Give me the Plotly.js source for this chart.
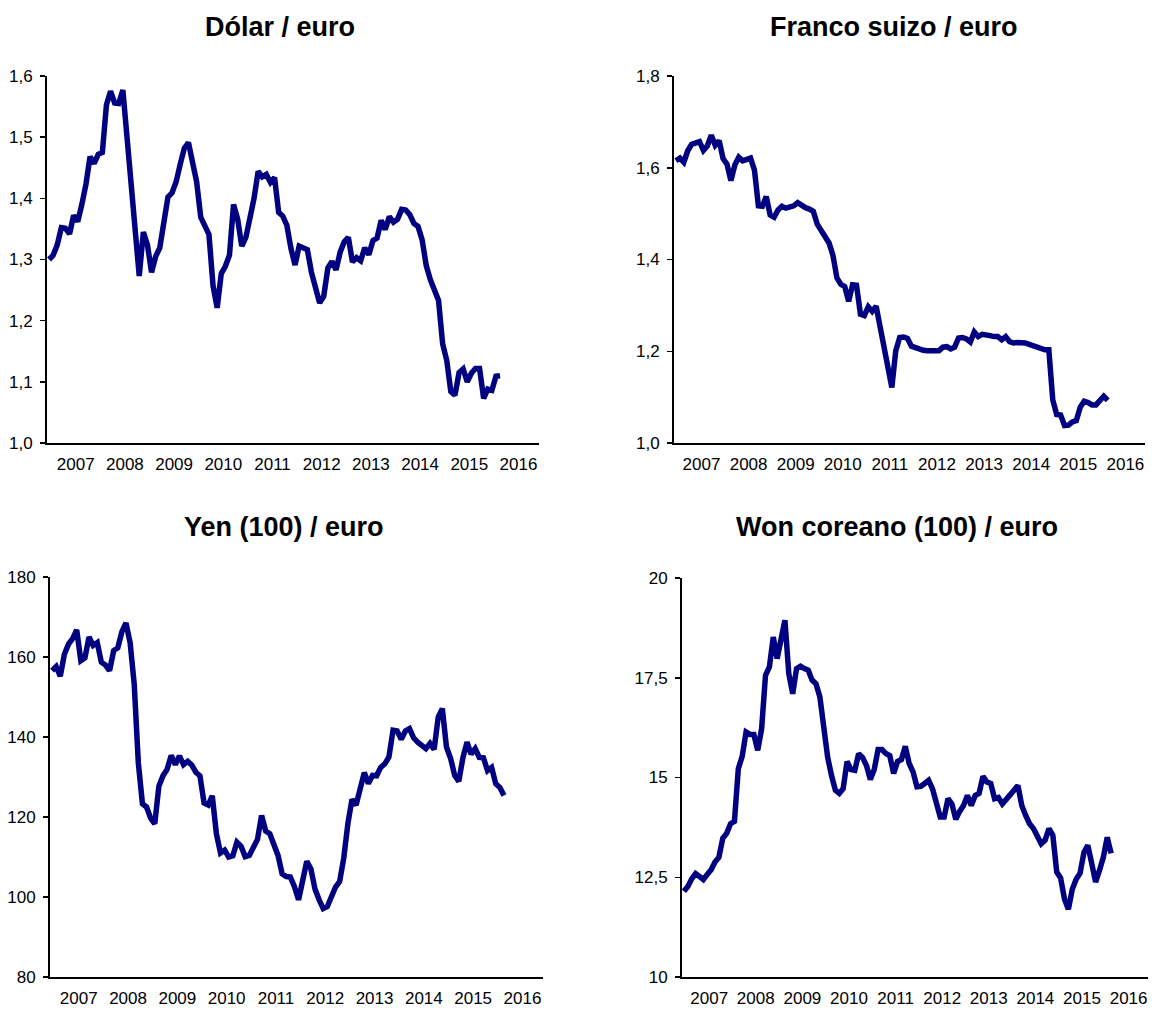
<!DOCTYPE html>
<html>
<head>
<meta charset="utf-8">
<script src="https://cdn.plot.ly/plotly-3.0.1.min.js"></script>
<style>
  html, body { margin: 0; padding: 0; background: #fff; }
  #chart { width: 1152px; height: 1011px; }
</style>
</head>
<body>
<div id="chart"></div>
<script>
// Monthly averages, Jan 2007 .. Mar 2016 (111 months)
const dolarEuro = [
  1.300, 1.307, 1.324, 1.352, 1.351, 1.342, 1.372, 1.362, 1.390, 1.423, 1.468, 1.457,
  1.472, 1.475, 1.553, 1.575, 1.556, 1.555, 1.577, 1.498, 1.437, 1.332, 1.273, 1.345,
  1.324, 1.279, 1.305, 1.319, 1.365, 1.402, 1.409, 1.427, 1.456, 1.482, 1.491, 1.461,
  1.427, 1.369, 1.357, 1.341, 1.257, 1.221, 1.277, 1.289, 1.307, 1.390, 1.366, 1.322,
  1.336, 1.365, 1.400, 1.444, 1.435, 1.439, 1.426, 1.434, 1.377, 1.371, 1.356, 1.318,
  1.291, 1.322, 1.320, 1.316, 1.279, 1.253, 1.229, 1.240, 1.286, 1.297, 1.283, 1.312,
  1.329, 1.336, 1.296, 1.303, 1.298, 1.319, 1.308, 1.331, 1.335, 1.364, 1.349, 1.370,
  1.361, 1.366, 1.382, 1.381, 1.373, 1.359, 1.354, 1.332, 1.290, 1.267, 1.247, 1.233,
  1.162, 1.135, 1.084, 1.078, 1.115, 1.121, 1.100, 1.114, 1.122, 1.122, 1.073, 1.088,
  1.086, 1.109, 1.110
];

const francoEuro = [
  1.615, 1.621, 1.612, 1.637, 1.651, 1.654, 1.657, 1.638, 1.648, 1.671, 1.649, 1.659,
  1.620, 1.608, 1.572, 1.606, 1.623, 1.615, 1.618, 1.621, 1.595, 1.517, 1.516, 1.537,
  1.497, 1.492, 1.508, 1.516, 1.512, 1.515, 1.517, 1.524, 1.518, 1.513, 1.510, 1.505,
  1.477, 1.465, 1.450, 1.436, 1.409, 1.360, 1.346, 1.341, 1.309, 1.345, 1.344, 1.281,
  1.278, 1.297, 1.287, 1.298, 1.254, 1.209, 1.177, 1.121, 1.201, 1.230, 1.231, 1.228,
  1.211, 1.207, 1.206, 1.202, 1.201, 1.201, 1.201, 1.201, 1.209, 1.210, 1.205, 1.209,
  1.229, 1.230, 1.227, 1.220, 1.242, 1.232, 1.237, 1.234, 1.234, 1.232, 1.232, 1.225,
  1.232, 1.221, 1.218, 1.219, 1.220, 1.218, 1.215, 1.212, 1.208, 1.208, 1.203, 1.203,
  1.094, 1.062, 1.061, 1.038, 1.039, 1.046, 1.049, 1.078, 1.091, 1.088, 1.083, 1.083,
  1.094, 1.102, 1.093
];

const yenEuro = [
  156.6, 157.6, 155.2, 160.7, 163.2, 164.6, 166.8, 159.1, 159.8, 165.0, 162.9, 163.6,
  158.7, 158.0, 156.6, 161.6, 162.3, 166.3, 168.5, 163.6, 153.2, 133.5, 123.3, 122.5,
  119.7, 118.3, 127.7, 130.3, 131.9, 135.4, 133.1, 135.3, 133.1, 133.9, 133.0, 131.2,
  130.3, 123.5, 123.0, 125.3, 115.8, 111.0, 111.7, 110.0, 110.3, 113.7, 112.7, 110.1,
  110.4, 112.8, 114.4, 120.4, 116.5, 115.8, 113.3, 110.4, 105.8, 105.1, 105.0, 102.6,
  99.3, 103.8, 108.9, 107.0, 102.0, 99.3, 97.1, 97.6, 100.5, 102.5, 103.9, 109.7,
  118.3, 124.4, 123.0, 127.5, 131.1, 128.4, 130.4, 130.3, 132.4, 133.3, 135.0, 141.7,
  141.5, 139.4, 141.5, 142.1, 139.8, 138.7, 137.7, 137.1, 138.4, 136.9, 145.0, 147.1,
  137.5, 134.7, 130.4, 128.9, 134.8, 138.7, 135.7, 137.1, 134.9, 134.8, 131.6, 132.4,
  128.3, 127.4, 125.4
];

const wonEuro = [
  12.15, 12.27, 12.46, 12.59, 12.52, 12.44, 12.57, 12.69, 12.88, 13.00, 13.48, 13.60,
  13.84, 13.90, 15.22, 15.53, 16.14, 16.08, 16.08, 15.68, 16.22, 17.56, 17.77, 18.52,
  17.98, 18.52, 18.94, 17.60, 17.10, 17.73, 17.79, 17.73, 17.69, 17.44, 17.35, 17.02,
  16.15, 15.51, 15.05, 14.68, 14.60, 14.72, 15.40, 15.20, 15.18, 15.60, 15.50, 15.30,
  14.95, 15.20, 15.70, 15.70, 15.60, 15.55, 15.10, 15.40, 15.45, 15.78, 15.35, 15.14,
  14.77, 14.78, 14.85, 14.93, 14.72, 14.30, 14.01, 14.01, 14.47, 14.34, 13.95, 14.15,
  14.30, 14.55, 14.30, 14.55, 14.60, 15.03, 14.89, 14.85, 14.47, 14.50, 14.34, 14.45,
  14.55, 14.68, 14.80, 14.30, 14.05, 13.84, 13.72, 13.55, 13.34, 13.43, 13.72, 13.55,
  12.63, 12.48, 11.95, 11.70, 12.20, 12.45, 12.60, 13.12, 13.30, 12.85, 12.38, 12.67,
  13.00, 13.50, 13.10
];

const yearLabels = ['2007', '2008', '2009', '2010', '2011', '2012', '2013', '2014', '2015', '2016'];
const titles = ['Dólar / euro', 'Franco suizo / euro', 'Yen (100) / euro', 'Won coreano (100) / euro'];

const W = 1152, H = 1011;
const FONT = 'Liberation Sans, Arial, sans-serif';
const LINE_COLOR = '#000080';

// month index -> x position (points sit mid-month)
const months = dolarEuro.map((_, i) => i + 0.5);
const yearTicks = yearLabels.map((_, k) => 7 + 12 * k);

// plot boxes in pixels: [left, right, top, bottom]
const boxes = [
  [47, 539, 76, 443],
  [674, 1145, 76, 443],
  [50, 543, 577, 977],
  [682, 1148, 578, 977],
];
const titlePos = [[280, 27], [894, 27], [284, 527], [897, 527]];

const yTicks = [
  { range: [1.0, 1.6], vals: [1.0, 1.1, 1.2, 1.3, 1.4, 1.5, 1.6], text: ['1,0', '1,1', '1,2', '1,3', '1,4', '1,5', '1,6'] },
  { range: [1.0, 1.8], vals: [1.0, 1.2, 1.4, 1.6, 1.8], text: ['1,0', '1,2', '1,4', '1,6', '1,8'] },
  { range: [80, 180], vals: [80, 100, 120, 140, 160, 180], text: ['80', '100', '120', '140', '160', '180'] },
  { range: [10, 20], vals: [10, 12.5, 15, 17.5, 20], text: ['10', '12,5', '15', '17,5', '20'] },
];

const series = [dolarEuro, francoEuro, yenEuro, wonEuro];

const traces = series.map((ys, k) => ({
  type: 'scatter',
  mode: 'lines',
  x: months,
  y: ys,
  xaxis: k === 0 ? 'x' : 'x' + (k + 1),
  yaxis: k === 0 ? 'y' : 'y' + (k + 1),
  line: { color: LINE_COLOR, width: 5.5 },
  hoverinfo: 'y',
}));

const layout = {
  width: W,
  height: H,
  margin: { t: 0, r: 0, b: 0, l: 0 },
  paper_bgcolor: '#ffffff',
  plot_bgcolor: '#ffffff',
  showlegend: false,
  font: { family: FONT, color: '#000', size: 17 },
  annotations: titles.map((t, k) => ({
    text: t,
    x: titlePos[k][0] / W,
    y: 1 - titlePos[k][1] / H,
    xref: 'paper', yref: 'paper',
    xanchor: 'center', yanchor: 'middle',
    showarrow: false,
    font: { family: FONT, size: 27, color: '#000', weight: 'bold' },
  })),
};

boxes.forEach((b, k) => {
  const sfx = k === 0 ? '' : String(k + 1);
  layout['xaxis' + sfx] = {
    domain: [b[0] / W, b[1] / W],
    anchor: 'y' + sfx,
    range: [0, 120],
    tickvals: yearTicks,
    ticktext: yearLabels,
    ticks: '',
    showgrid: false,
    zeroline: false,
    showline: true,
    linecolor: '#000',
    linewidth: 2,
    ticklabelstandoff: 5,
    tickfont: { family: FONT, size: 17, color: '#000' },
    fixedrange: true,
  };
  layout['yaxis' + sfx] = {
    domain: [1 - b[3] / H, 1 - b[2] / H],
    anchor: 'x' + sfx,
    range: yTicks[k].range,
    tickvals: yTicks[k].vals,
    ticktext: yTicks[k].text,
    ticks: 'outside',
    ticklen: 5,
    tickwidth: 1.5,
    tickcolor: '#000',
    showgrid: false,
    zeroline: false,
    showline: true,
    linecolor: '#000',
    linewidth: 2,
    ticklabelstandoff: 4,
    tickfont: { family: FONT, size: 17, color: '#000' },
    fixedrange: true,
  };
});

Plotly.newPlot('chart', traces, layout, { displayModeBar: false, staticPlot: true });
</script>
</body>
</html>
